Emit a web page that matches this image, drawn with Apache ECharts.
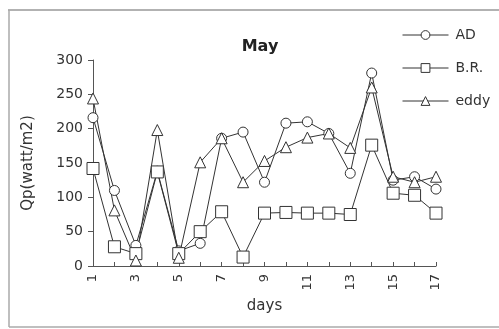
<!DOCTYPE html>
<html>
<head>
<meta charset="utf-8">
<script src="https://cdn.jsdelivr.net/npm/echarts@6/dist/echarts.min.js"></script>
<style>
  html, body { margin: 0; padding: 0; background: #fff; }
  #chart { width: 499px; height: 329px; }
</style>
</head>
<body>
<div id="chart"></div>
<script>
// Daily heat flux Qp for May, three estimation methods
const days = [1, 2, 3, 4, 5, 6, 7, 8, 9, 10, 11, 12, 13, 14, 15, 16, 17];
const adValues   = [216, 110, 30, 138, 22, 33, 186, 195, 122, 208, 210, 193, 135, 281, 125, 130, 112];
const brValues   = [142, 28, 18, 137, 18, 50, 79, 13, 77, 78, 77, 77, 75, 176, 106, 103, 77];
const eddyValues = [244, 81, 8, 198, 12, 151, 186, 122, 153, 173, 187, 193, 172, 260, 130, 122, 130];
const yTicks = [0, 50, 100, 150, 200, 250, 300];

const FONT = 'DejaVu Sans';
const INK = '#333';

function pairs(vals) {
  return days.map((d, i) => [d, vals[i]]);
}

function series(name, vals, symbol, size) {
  return {
    name: name,
    type: 'line',
    data: pairs(vals),
    symbol: symbol,
    symbolSize: size,
    showAllSymbol: true,
    lineStyle: { color: INK, width: 1 },
    itemStyle: { color: '#fff', borderColor: INK, borderWidth: 1 },
    emphasis: { disabled: true },
    z: 3
  };
}

const chart = echarts.init(document.getElementById('chart'), null, { renderer: 'canvas' });
chart.setOption({
  animation: false,
  backgroundColor: '#fff',
  title: {
    text: 'May',
    left: 255,
    top: 34,
    textAlign: 'center',
    textStyle: { fontFamily: FONT, fontSize: 16, fontWeight: 'bold', color: '#222' }
  },
  legend: {
    orient: 'vertical',
    left: 402,
    top: 28,
    padding: 0,
    itemWidth: 46,
    itemHeight: 11,
    itemGap: 19,
    lineStyle: { width: 1, color: INK },
    itemStyle: { color: '#fff', borderColor: INK, borderWidth: 1 },
    textStyle: { fontFamily: FONT, fontSize: 14, color: INK, padding: [0, 0, 0, 2] },
    data: ['AD', 'B.R.', 'eddy']
  },
  grid: { left: 93, right: 63, top: 60, bottom: 63, containLabel: false },
  xAxis: {
    type: 'value',
    min: 1,
    max: 17,
    interval: 1,
    name: 'days',
    nameLocation: 'middle',
    nameGap: 27,
    nameTextStyle: { fontFamily: FONT, fontSize: 15, color: INK },
    axisLine: { lineStyle: { color: '#555', width: 1 } },
    axisTick: { length: 4, inside: true, lineStyle: { color: '#555' } },
    splitLine: { show: false },
    axisLabel: {
      rotate: 90,
      margin: 8,
      fontFamily: FONT,
      fontSize: 13,
      color: INK,
      formatter: v => (v % 2 === 1 ? String(v) : '')
    }
  },
  yAxis: {
    type: 'value',
    min: yTicks[0],
    max: yTicks[yTicks.length - 1],
    interval: 50,
    name: 'Qp(watt/m2)',
    nameLocation: 'middle',
    nameGap: 57,
    nameRotate: 90,
    nameTextStyle: { fontFamily: FONT, fontSize: 15, color: INK },
    axisLine: { show: true, lineStyle: { color: '#555', width: 1 } },
    axisTick: { show: true, length: 5, lineStyle: { color: '#555' } },
    splitLine: { show: false },
    axisLabel: { margin: 10, fontFamily: FONT, fontSize: 14, color: INK }
  },
  series: [
    series('AD', adValues, 'circle', 10),
    series('B.R.', brValues, 'rect', 12),
    series('eddy', eddyValues, 'triangle', 11)
  ],
  graphic: [
    { type: 'line', shape: { x1: 8, y1: 10, x2: 499, y2: 10 }, style: { stroke: '#999', lineWidth: 1.5 }, silent: true },
    { type: 'line', shape: { x1: 9, y1: 10, x2: 9, y2: 327 }, style: { stroke: '#aaa', lineWidth: 1.5 }, silent: true },
    { type: 'line', shape: { x1: 9, y1: 327, x2: 499, y2: 327 }, style: { stroke: '#aaa', lineWidth: 1.5 }, silent: true }
  ]
});
</script>
</body>
</html>
